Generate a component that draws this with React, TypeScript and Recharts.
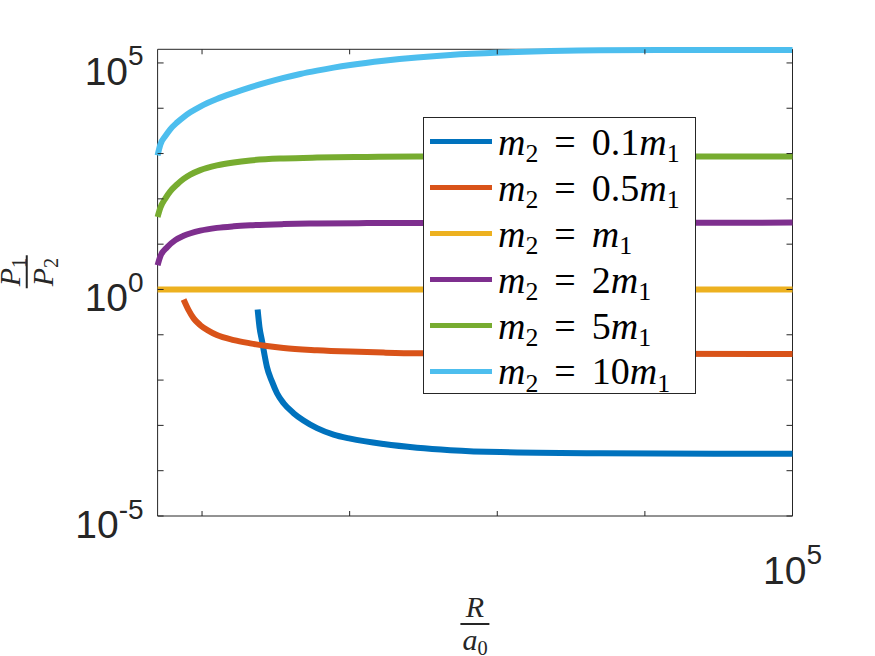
import { Legend, Line, LineChart, ReferenceArea, XAxis, YAxis } from "recharts";

// plot box in page pixels (MATLAB-style axes)
const PLOT_LEFT = 157.6;
const PLOT_RIGHT = 792.5;
const PLOT_TOP = 49.3;
const PLOT_BOTTOM = 516;
const W = 875;
const H = 656;
const AXIS_COLOR = "#262626";

const X_MIN = 5;
const X_MAX = 100000;
const Y_MIN = 1e-5;
const Y_MAX = 2e5;

const X_TICKS = [10, 100, 1000, 10000, 100000];
const X_LABELED = [100000];
const Y_TICKS = [1e-5, 1e-4, 1e-3, 1e-2, 1e-1, 1, 10, 100, 1000, 10000, 100000];
const Y_LABELED = [-5, 0, 5];

// m2 = 0.1 m1
const R_01 = [23.8, 24.5, 25.5, 26.4, 27.5, 29.8, 32.2, 35.7, 41.7, 48.7, 60.1, 77.8, 101, 170, 286, 480, 1050, 5000, 100000];
const P_01 = [0.362, 0.148, 0.0726, 0.0385, 0.0197, 0.00922, 0.00512, 0.00308, 0.00186, 0.00128, 0.000868, 0.000624, 0.000509, 0.000387, 0.000321, 0.000284, 0.000257, 0.000242, 0.000236];
// m2 = 0.5 m1
const R_05 = [7.5, 8.11, 8.77, 9.73, 11.1, 12.6, 16.4, 21.2, 27.5, 35.7, 60.1, 101, 170, 286, 100000];
const P_05 = [0.603, 0.35, 0.23, 0.163, 0.122, 0.0984, 0.0763, 0.0647, 0.0564, 0.0509, 0.0456, 0.0425, 0.0404, 0.0392, 0.0376];
// m2 = m1
const R_1 = [5, 100000];
const P_1 = [1, 1];
// m2 = 2 m1
const R_2 = [5, 5.22, 5.8, 6.59, 7.5, 9.73, 12.6, 16.4, 21.2, 35.7, 60.1, 131, 286, 100000];
const P_2 = [3.43, 5.42, 8.57, 12.3, 15.3, 19.9, 22.9, 24.8, 26.1, 27.7, 28.6, 29.2, 29.5, 29.9];
// m2 = 5 m1
const R_5 = [5, 5.22, 5.65, 6.09, 6.77, 7.5, 8.33, 9.73, 12.6, 16.4, 21.2, 35.7, 60.1, 131, 286, 100000];
const P_5 = [39.7, 63.4, 102.6, 146, 208, 276, 343, 431, 547, 637, 705, 780, 816, 841, 859, 863];
// m2 = 10 m1
const R_10 = [5, 5.22, 5.65, 6.09, 6.77, 7.5, 8.33, 9.73, 12.6, 16.4, 21.2, 27.5, 35.7, 46.3, 60.1, 77.8, 101, 170, 286, 480, 1050, 2280, 4980, 23700, 100000];
const P_10 = [908, 1585, 2443, 3430, 4842, 6397, 8128, 10890, 15950, 21830, 28840, 37150, 46770, 57020, 67610, 78700, 89950, 111700, 132100, 150000, 169400, 182800, 190500, 193000, 193000];

const COEFS = ["0.1", "0.5", "", "2", "5", "10"];
const COLORS = ["#0072BD", "#D95319", "#EDB120", "#7E2F8E", "#77AC30", "#4DBEEE"];
const XS = [R_01, R_05, R_1, R_2, R_5, R_10];
const YS = [P_01, P_05, P_1, P_2, P_5, P_10];

const series = COEFS.map((coef, i) => ({
  coef,
  color: COLORS[i],
  data: XS[i].map((x, j) => ({ x, y: YS[i][j] })),
}));

function YTick(props: any) {
  const { x, y, payload } = props;
  const e = Math.round(Math.log10(payload.value));
  return (
    <g>
      <line x1={x} x2={x + 6} y1={y} y2={y} stroke={AXIS_COLOR} strokeWidth={1} />
      <line x1={PLOT_RIGHT - 6} x2={PLOT_RIGHT} y1={y} y2={y} stroke={AXIS_COLOR} strokeWidth={1} />
      {Y_LABELED.includes(e) && (
        <text x={x - 14} y={y + 22} textAnchor="end" fill={AXIS_COLOR} fontSize={39} fontFamily="'Liberation Sans', Arial, sans-serif">
          10
          <tspan dy={-19.5} fontSize={28}>
            {e}
          </tspan>
        </text>
      )}
    </g>
  );
}

function XTick(props: any) {
  const { x, y, payload } = props;
  return (
    <g>
      <line x1={x} x2={x} y1={y} y2={y - 5} stroke={AXIS_COLOR} strokeWidth={1} />
      <line x1={x} x2={x} y1={PLOT_TOP} y2={PLOT_TOP + 5} stroke={AXIS_COLOR} strokeWidth={1} />
      {X_LABELED.includes(payload.value) && (
        <text x={x} y={y + 68} textAnchor="middle" fill={AXIS_COLOR} fontSize={39} fontFamily="'Liberation Sans', Arial, sans-serif">
          10
          <tspan dy={-20} fontSize={28}>
            {Math.round(Math.log10(payload.value))}
          </tspan>
        </text>
      )}
    </g>
  );
}

const mathFont = "'Liberation Serif', 'Times New Roman', serif";

function Sub({ children }: { children: any }) {
  return (
    <span style={{ fontSize: "0.68em", fontStyle: "normal", position: "relative", top: "0.28em" }}>{children}</span>
  );
}

function MassLabel({ coef }: { coef: string }) {
  return (
    <span style={{ fontFamily: mathFont, fontSize: 38, color: "#000", whiteSpace: "nowrap", lineHeight: 1 }}>
      <i>m</i>
      <Sub>2</Sub>
      <span style={{ margin: "0 0.42em" }}>=</span>
      {coef}
      <i>m</i>
      <Sub>1</Sub>
    </span>
  );
}

function LegendBox(props: any) {
  const payload = [...(props.payload || [])].sort(
    (a: any, b: any) => COEFS.indexOf(a.value) - COEFS.indexOf(b.value)
  );
  return (
    <div
      style={{
        width: 273,
        height: 277,
        border: `1px solid ${AXIS_COLOR}`,
        background: "#fff",
        boxSizing: "border-box",
        paddingTop: 1,
      }}
    >
      {payload.map((p: any, i: number) => (
        <div key={i} style={{ height: 45.9, display: "flex", alignItems: "center" }}>
          <div style={{ width: 62, height: 5, background: p.color, marginLeft: 6, marginRight: 6 }} />
          <MassLabel coef={p.value} />
        </div>
      ))}
    </div>
  );
}

function Fraction({ top, bottom, size }: { top: any; bottom: any; size: number }) {
  return (
    <div
      style={{
        display: "inline-flex",
        flexDirection: "column",
        alignItems: "center",
        fontFamily: mathFont,
        fontSize: size,
        lineHeight: 1,
        color: AXIS_COLOR,
      }}
    >
      <div style={{ padding: "0 2px 1px" }}>{top}</div>
      <div style={{ alignSelf: "stretch", height: 1.5, background: AXIS_COLOR }} />
      <div style={{ padding: "0 2px 0" }}>{bottom}</div>
    </div>
  );
}

export default function App() {
  const yAxisWidth = 100;
  const xAxisHeight = 60;
  return (
    <div style={{ position: "absolute", left: 0, top: 0, width: W, height: H, background: "#fff", overflow: "hidden" }}>
      <LineChart
        width={W}
        height={H}
        margin={{
          top: PLOT_TOP,
          right: W - PLOT_RIGHT,
          left: PLOT_LEFT - yAxisWidth,
          bottom: H - PLOT_BOTTOM - xAxisHeight,
        }}
      >
        <XAxis
          dataKey="x"
          type="number"
          scale="log"
          domain={[X_MIN, X_MAX]}
          ticks={X_TICKS}
          tick={<XTick />}
          tickLine={false}
          tickSize={0}
          tickMargin={0}
          axisLine={false}
          height={xAxisHeight}
          interval={0}
        />
        <YAxis
          dataKey="y"
          type="number"
          scale="log"
          domain={[Y_MIN, Y_MAX]}
          ticks={Y_TICKS}
          tick={<YTick />}
          tickLine={false}
          tickSize={0}
          tickMargin={0}
          axisLine={false}
          width={yAxisWidth}
          interval={0}
        />
        <ReferenceArea x1={X_MIN} x2={X_MAX} y1={Y_MIN} y2={Y_MAX} fill="none" stroke={AXIS_COLOR} strokeWidth={1} />
        {series.map((s) => (
          <Line
            key={s.coef}
            data={s.data}
            dataKey="y"
            name={s.coef}
            type="monotone"
            stroke={s.color}
            strokeWidth={6}
            dot={false}
            activeDot={false}
            isAnimationActive={false}
          />
        ))}
        <Legend
          layout="horizontal"
          verticalAlign="middle"
          align="center"
          content={<LegendBox />}
          wrapperStyle={{ left: 423, top: 117, width: 273, height: 277 }}
        />
      </LineChart>
      <div style={{ position: "absolute", left: 475, top: 592, transform: "translateX(-50%)" }}>
        <Fraction size={30} top={<i>R</i>} bottom={<span><i>a</i><Sub>0</Sub></span>} />
      </div>
      <div
        style={{
          position: "absolute",
          left: 26,
          top: 272,
          transform: "translate(-50%, -50%) rotate(-90deg)",
        }}
      >
        <Fraction size={30} top={<span><i>P</i><Sub>1</Sub></span>} bottom={<span><i>P</i><Sub>2</Sub></span>} />
      </div>
    </div>
  );
}
